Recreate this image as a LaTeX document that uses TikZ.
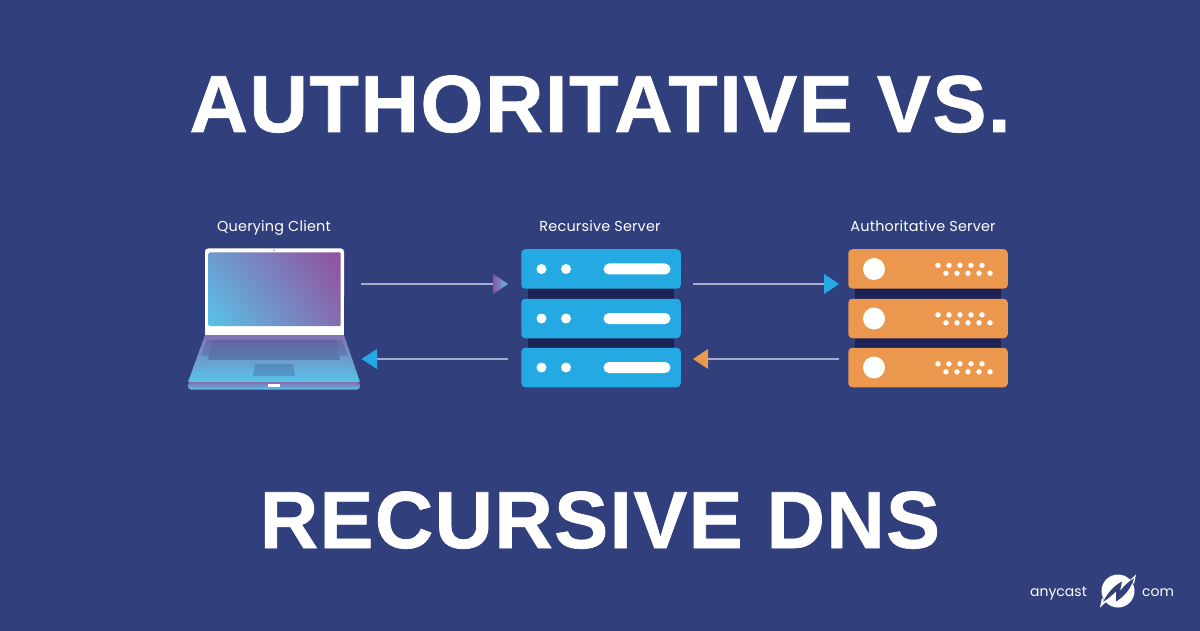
\documentclass[tikz,border=0pt]{standalone}
\usepackage{fontspec}
\setmainfont{Poppins}
\newfontfamily\titlefont[LetterSpace=1.9,BoldFeatures={FakeBold=0.8}]{Liberation Sans}
\newfontfamily\subtitlefont[LetterSpace=1.6,BoldFeatures={FakeBold=0.8}]{Liberation Sans}
\newfontfamily\capfont[LetterSpace=1.5]{Poppins}
\usetikzlibrary{positioning,shadings}
\definecolor{bgblue}{HTML}{313F7C}
\definecolor{srvblue}{HTML}{25A9E3}
\definecolor{srvorange}{HTML}{EB984E}
\definecolor{srvdark}{HTML}{1C2156}
\definecolor{lapblue}{HTML}{58C4EA}
\definecolor{lappurple}{HTML}{93509C}
\definecolor{linegrey}{HTML}{A7AACB}
\tikzset{
  title/.style={text=white,anchor=base,inner sep=0pt},
  caption/.style={text=white,anchor=base,font=\capfont\fontsize{14.4}{14.4}\selectfont,inner sep=0pt},
  logotext/.style={text=white,anchor=base,font=\fontsize{14}{14}\selectfont,inner sep=0pt},
  unit/.style={rounded corners=4pt,minimum width=159.5pt,minimum height=39.5pt,inner sep=0pt},
  band/.style={fill=srvdark,minimum width=146pt,minimum height=11pt,inner sep=0pt},
  link/.style={linegrey,line width=1.2pt},
}
\begin{document}
\begin{tikzpicture}[x=1pt,y=-1pt]
\useasboundingbox (0,0) rectangle (1200,631);
\fill[bgblue] (0,0) rectangle (1200,631);

%titles
\node[title,font=\titlefont\bfseries\fontsize{81}{81}\selectfont] (t1) at (600,132) {AUTHORITATIVE VS.};
\node[title,font=\subtitlefont\bfseries\fontsize{81}{81}\selectfont] (t2) at (600,548) {RECURSIVE DNS};

%captions
\node[caption] (c1) at (274,231.5) {Querying Client};
\node[caption] (c2) at (600,231.5) {Recursive Server};
\node[caption] (c3) at (923,231.5) {Authoritative Server};

%laptop
\shade[top color=lappurple!70!lapblue,bottom color=lapblue]
  (205,335) -- (344,335) -- (360,382) -- (188,382) -- cycle;
\fill[white,rounded corners=3pt] (205,300) -- (205,248.5) -- (344,248.5) -- (344,300) -- cycle;
\fill[white] (205,295) rectangle (344,335);
\shade[upper right=lappurple,upper left=lappurple!35!lapblue,lower left=lapblue,lower right=lappurple!75!lapblue,rounded corners=1pt]
  (208.5,252.5) rectangle (340.5,326);
\fill[gray!70] (274,250.5) circle (1pt);
\fill[srvdark,opacity=.25] (213,339.5) -- (336,339.5) -- (340,360) -- (208,360) -- cycle;
\fill[srvdark,opacity=.2] (255,364) -- (293,364) -- (295,376) -- (253,376) -- cycle;
\fill[srvdark,opacity=.18] (207,340) -- (213,340) -- (209.5,356) -- (201,356) -- cycle;
\fill[srvdark,opacity=.18] (336,340) -- (342,340) -- (348,356) -- (339.5,356) -- cycle;
\shade[top color=lappurple!75!lapblue,bottom color=lapblue,rounded corners=3pt]
  (188,382) -- (360,382) -- (360,389.5) -- (188,389.5) -- cycle;
\fill[white] (268,384) rectangle (280,386.5);

%servers
\node[band] (b1) at (601,294) {};
\node[band] (b2) at (601,343.3) {};
\node[band] (b3) at (928,294) {};
\node[band] (b4) at (928,343.3) {};
\foreach \name/\cy in {a/269,b/318.5,c/367.5}{
  \node[unit,fill=srvblue] (r\name) at (601,\cy) {};
  \fill[white] (541.5,\cy) circle (5pt) (566,\cy) circle (5pt);
  \fill[white,rounded corners=5.4pt] (603.5,\cy-5.5) rectangle (670.5,\cy+5.5);
  \node[unit,fill=srvorange] (u\name) at (928,\cy) {};
  \fill[white] (874,\cy) circle (11pt);
  \foreach \dx in {0,11,22,33,44}{
    \fill[white] (938+\dx,\cy-3.7) circle (2.7pt) (946+\dx,\cy+4.3) circle (2.7pt);
  }
}

%arrow ends
\coordinate (q1) at (361,284);
\coordinate (q2) at (493,284);
\coordinate (q3) at (693,284);
\coordinate (q4) at (824,284);
\coordinate (q5) at (839,359);
\coordinate (q6) at (708,359);
\coordinate (q7) at (508,359);
\coordinate (q8) at (376,359);

\draw[link] (q1) -- (q2);
\draw[link] (q3) -- (q4);
\draw[link] (q5) -- (q6);
\draw[link] (q7) -- (q8);

\shade[left color=lappurple,right color=lapblue] (493,274) -- (508,284) -- (493,294) -- cycle;
\fill[srvblue] (824,274) -- (839,284) -- (824,294) -- cycle;
\fill[srvorange] (708,349) -- (693,359) -- (708,369) -- cycle;
\fill[srvblue] (377,349) -- (361.5,359) -- (377,369) -- cycle;

%logo
\node[logotext] (l1) at (1058.5,596) {anycast};
\node[logotext] (l2) at (1158,596) {com};
\fill[white] (1118,591) circle (16.5pt);
\fill[white] (1130,580) -- (1136,574.5) -- (1134,584) -- cycle;
\fill[white] (1106,602) -- (1100,607.5) -- (1102,598) -- cycle;
\fill[bgblue] (1103,602) .. controls (1108,592) and (1115,585) .. (1122,581.5)
  -- (1120,591) .. controls (1124,586) and (1129,581) .. (1134,578.5)
  .. controls (1131,588) and (1125,596) .. (1116,601.5)
  -- (1116,591.5) .. controls (1112,595) and (1108,599) .. cycle;
\end{tikzpicture}
\end{document}
